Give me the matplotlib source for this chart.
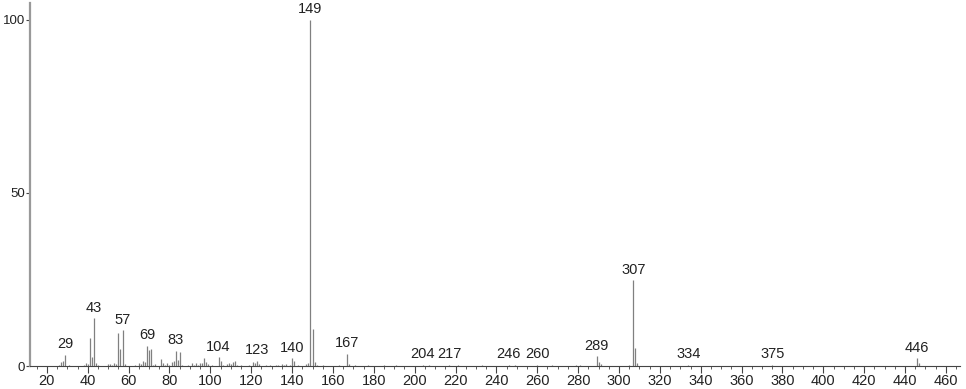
import numpy as np
import matplotlib
matplotlib.use("Agg")
import matplotlib.pyplot as plt
from matplotlib.ticker import MultipleLocator

# peaks (m/z, relative intensity %)
mz = [26, 27, 28, 29, 31, 38, 39, 40, 41, 42, 43, 44, 45, 50, 51, 52, 53, 54, 55, 56, 57, 58,
      63, 65, 66, 67, 68, 69, 70, 71, 72, 73, 76, 77, 78, 79, 80, 81, 82, 83, 84, 85, 86,
      89, 91, 92, 93, 94, 95, 96, 97, 98, 99, 101, 104, 105, 106, 108, 109, 110, 111, 112, 113,
      115, 119, 121, 122, 123, 124, 127, 129, 132, 133, 135, 136, 137, 139, 140, 141, 143,
      147, 148, 149, 150, 151, 152, 155, 163, 167, 168, 171, 177, 185, 191, 204, 207, 217,
      221, 233, 246, 249, 260, 267, 279, 281, 289, 290, 291, 305, 307, 308, 309, 334, 375,
      446, 447]
intensity = [0.4, 1.2, 1.5, 3.2, 0.4, 0.3, 0.8, 0.5, 8.0, 2.5, 13.8, 1.0, 0.3, 0.6, 0.7, 0.3,
             0.8, 0.6, 9.4, 4.8, 10.3, 0.6,
             0.3, 0.8, 0.5, 1.5, 1.2, 5.9, 4.6, 4.9, 0.4, 0.6, 2.0, 0.8, 0.4, 0.8, 0.4, 1.2,
             1.6, 4.4, 1.8, 4.0, 0.4,
             0.3, 0.8, 0.3, 0.9, 0.4, 0.8, 0.9, 2.2, 1.3, 0.6, 0.4, 2.6, 1.4, 0.4, 0.5, 0.8, 0.5,
             1.2, 1.5, 0.4,
             0.3, 0.3, 1.2, 1.0, 1.6, 0.5, 0.3, 0.4, 0.4, 0.3, 0.5, 0.4, 0.6, 0.4, 2.2, 1.4, 0.4,
             0.6, 1.0, 100.0, 10.6, 1.2, 0.3, 0.3, 0.3, 3.6, 0.5, 0.3, 0.3, 0.2, 0.2, 0.4, 0.3, 0.4,
             0.2, 0.2, 0.4, 0.2, 0.4, 0.2, 0.3, 0.2, 2.8, 1.1, 0.5, 0.3, 24.8, 5.1, 1.0, 0.4, 0.4,
             2.3, 0.8]

labels = [29, 43, 57, 69, 83, 104, 123, 140, 149, 167, 204, 217, 246, 260, 289, 307, 334, 375, 446]

plt.rcParams['font.family'] = ['Liberation Sans', 'DejaVu Sans']

fig = plt.figure(figsize=(9.66, 3.89), dpi=100)
ax = fig.add_axes([0.031, 0.059, 0.963, 0.933])

ax.vlines(mz, 0, intensity, colors='#808080', linewidth=0.9)

peak = dict(zip(mz, intensity))
for m in labels:
    ax.annotate(str(m), xy=(m, peak[m]), xytext=(0, 2.5), textcoords='offset points',
                ha='center', va='bottom', fontsize=10.5, color='#222222')

ax.set_xlim(11.7, 467)
ax.set_ylim(0, 104.8)
ax.xaxis.set_major_locator(MultipleLocator(20))
ax.xaxis.set_minor_locator(MultipleLocator(5))
ax.set_xticks(np.arange(20, 461, 20))
ax.set_yticks([0, 50, 100])

ax.spines['top'].set_visible(False)
ax.spines['right'].set_visible(False)
ax.spines['left'].set_color('#999999')
ax.spines['left'].set_linewidth(1.6)
ax.spines['bottom'].set_color('#444444')
ax.spines['bottom'].set_linewidth(0.8)

ax.tick_params(axis='x', which='major', length=5, width=0.8, color='#444444',
               labelsize=10.5, pad=1, labelcolor='#222222')
ax.tick_params(axis='x', which='minor', length=2.5, width=0.6, color='#444444')
ax.tick_params(axis='y', which='major', length=3, width=0.8, color='#444444',
               labelsize=9.5, pad=0.5, labelcolor='#222222')

fig.savefig('out.png', dpi=100)
